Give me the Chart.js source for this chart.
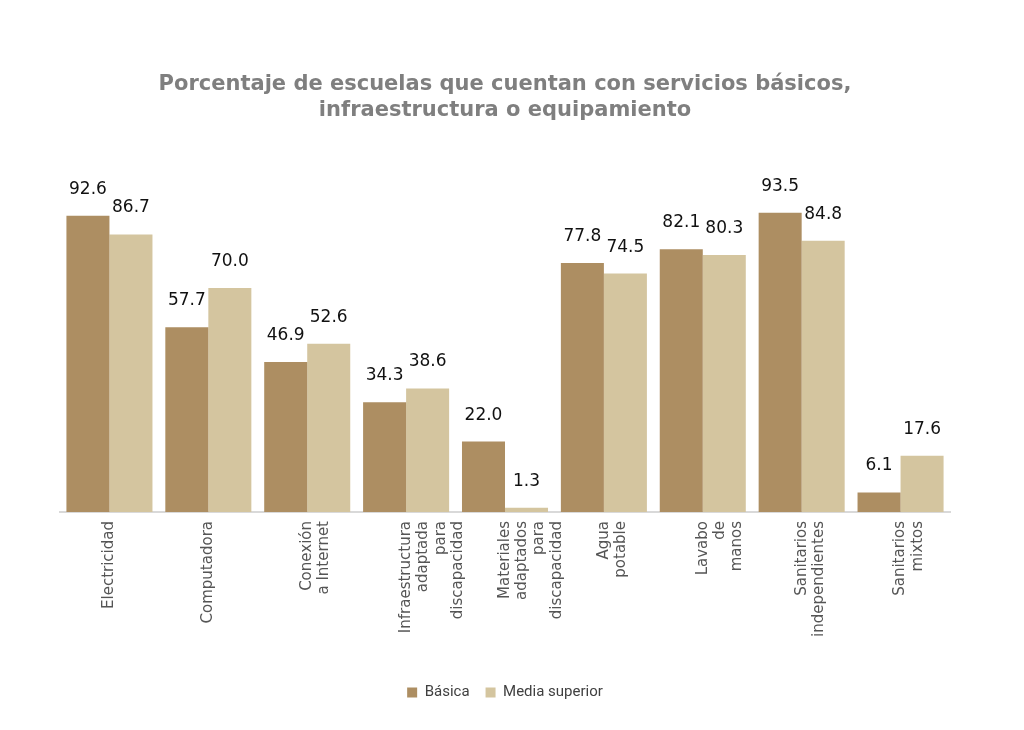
<!DOCTYPE html>
<html>
<head>
<meta charset="utf-8">
<script src="https://cdn.jsdelivr.net/npm/chart.js@4"></script>
<style>
  html, body { margin: 0; padding: 0; background: #ffffff; }
  #wrap { width: 1024px; height: 730px; }
</style>
</head>
<body>
<div id="wrap"><canvas id="myChart" width="1024" height="730"></canvas></div>
<script>
// categories (multi-line labels as in the original)
var categories = [
  ['Electricidad'],
  ['Computadora'],
  ['Conexión', 'a Internet'],
  ['Infraestructura', 'adaptada', 'para', 'discapacidad'],
  ['Materiales', 'adaptados', 'para', 'discapacidad'],
  ['Agua', 'potable'],
  ['Lavabo', 'de', 'manos'],
  ['Sanitarios', 'independientes'],
  ['Sanitarios', 'mixtos']
];

var basica = [92.6, 57.7, 46.9, 34.3, 22.0, 77.8, 82.1, 93.5, 6.1];
var mediaSuperior = [86.7, 70.0, 52.6, 38.6, 1.3, 74.5, 80.3, 84.8, 17.6];

// draws the value above each bar
var valueLabels = {
  id: 'valueLabels',
  afterDatasetsDraw: function (chart) {
    var ctx = chart.ctx;
    ctx.save();
    ctx.font = '17px "DejaVu Sans"';
    ctx.fillStyle = '#111111';
    ctx.textAlign = 'center';
    ctx.textBaseline = 'bottom';
    chart.data.datasets.forEach(function (ds, i) {
      var meta = chart.getDatasetMeta(i);
      meta.data.forEach(function (bar, j) {
        ctx.fillText(ds.data[j].toFixed(1), bar.x, bar.y - 18);
      });
    });
    ctx.restore();
  }
};

var ctx = document.getElementById('myChart').getContext('2d');
var chart = new Chart(ctx, {
  type: 'bar',
  data: {
    labels: categories,
    datasets: [{
      label: 'Básica',
      data: basica,
      backgroundColor: '#ad8e62'
    }, {
      label: 'Media superior',
      data: mediaSuperior,
      backgroundColor: '#d4c59f'
    }]
  },
  options: {
    responsive: false,
    animation: false,
    layout: { padding: { left: 60, right: 74, top: 59, bottom: 20 } },
    datasets: { bar: { categoryPercentage: 0.87, barPercentage: 1.0 } },
    scales: {
      x: {
        grid: { display: false, drawTicks: false },
        border: { display: true, color: '#d9d9d9', width: 2 },
        afterFit: function (scale) { scale.height = 157; },
        ticks: {
          minRotation: 90,
          maxRotation: 90,
          padding: 9,
          color: '#555555',
          font: { family: 'DejaVu Sans', size: 15, lineHeight: 1.15 }
        }
      },
      y: {
        display: false,
        min: 0,
        max: 100
      }
    },
    plugins: {
      title: {
        display: true,
        text: ['Porcentaje de escuelas que cuentan con servicios básicos,', 'infraestructura o equipamiento'],
        color: '#7f7f7f',
        font: { family: 'DejaVu Sans', size: 21, weight: 'bold', lineHeight: 1.25 },
        padding: { top: 12, bottom: 68.5 }
      },
      legend: {
        position: 'bottom',
        labels: {
          boxWidth: 10,
          boxHeight: 10,
          padding: 16,
          color: '#404040',
          font: { family: 'Roboto', size: 15 }
        }
      },
      tooltip: { enabled: false }
    }
  },
  plugins: [valueLabels]
});
</script>
</body>
</html>
